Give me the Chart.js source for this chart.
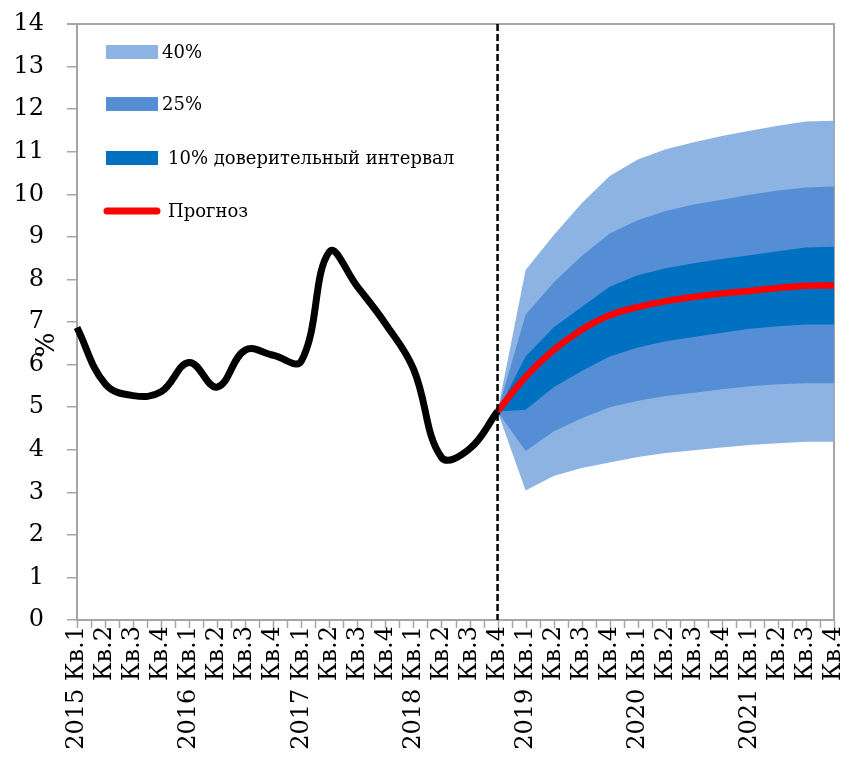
<!DOCTYPE html>
<html>
<head>
<meta charset="utf-8">
<script src="https://cdn.jsdelivr.net/npm/chart.js@4.4.0/dist/chart.umd.min.js"></script>
<style>
  html, body { margin: 0; padding: 0; background: #fff; }
  #wrap { width: 846px; height: 757px; }
</style>
</head>
<body>
<div id="wrap"><canvas id="myChart"></canvas></div>
<script>
// categories: 2015 Q1 .. 2021 Q4
const quarters = [
  "2015 Кв.1", "Кв.2", "Кв.3", "Кв.4",
  "2016 Кв.1", "Кв.2", "Кв.3", "Кв.4",
  "2017 Кв.1", "Кв.2", "Кв.3", "Кв.4",
  "2018 Кв.1", "Кв.2", "Кв.3", "Кв.4",
  "2019 Кв.1", "Кв.2", "Кв.3", "Кв.4",
  "2020 Кв.1", "Кв.2", "Кв.3", "Кв.4",
  "2021 Кв.1", "Кв.2", "Кв.3", "Кв.4"
];

// actual values, 2015 Q1 .. 2018 Q4
const history = [6.87, 5.55, 5.27, 5.36, 6.05, 5.47, 6.34, 6.22, 6.08, 8.65, 7.83, 6.96, 5.9, 3.82, 4.02, 4.9];

// forecast, 2018 Q4 .. 2021 Q4
const forecast = [4.9, 5.71, 6.34, 6.82, 7.16, 7.35, 7.49, 7.59, 7.67, 7.73, 7.8, 7.85, 7.86];
const upper10 = [4.9, 6.19, 6.87, 7.35, 7.83, 8.1, 8.26, 8.38, 8.48, 8.57, 8.66, 8.75, 8.77];
const lower10 = [4.9, 4.94, 5.47, 5.85, 6.19, 6.4, 6.55, 6.65, 6.75, 6.84, 6.9, 6.94, 6.94];
const upper25 = [4.9, 7.17, 7.93, 8.55, 9.08, 9.39, 9.61, 9.76, 9.87, 9.99, 10.09, 10.16, 10.18];
const lower25 = [4.9, 3.97, 4.43, 4.74, 5.0, 5.15, 5.26, 5.34, 5.42, 5.49, 5.54, 5.56, 5.56];
const upper40 = [4.9, 8.22, 9.04, 9.79, 10.43, 10.82, 11.06, 11.22, 11.37, 11.49, 11.61, 11.71, 11.73];
const lower40 = [4.9, 3.04, 3.38, 3.57, 3.7, 3.83, 3.92, 3.99, 4.05, 4.11, 4.15, 4.19, 4.19];

const yTicks = [0, 1, 2, 3, 4, 5, 6, 7, 8, 9, 10, 11, 12, 13, 14];

const forecastStart = history.length - 1;
const pad = (arr, before) => Array(before).fill(null).concat(arr).concat(Array(quarters.length - before - arr.length).fill(null));

const light = "#8db3e2";
const medium = "#558ed5";
const dark = "#0070c0";
const axisGray = "#a6a6a6";
const serif = "'DejaVu Serif', serif";

function band(label, data, color, fill) {
  return {
    label: label,
    data: pad(data, forecastStart),
    borderWidth: 0,
    pointRadius: 0,
    tension: 0,
    backgroundColor: color,
    fill: fill
  };
}

const decorations = {
  id: "decorations",
  beforeDatasetsDraw(chart) {
    const { ctx, chartArea: a, scales: { x } } = chart;
    ctx.save();
    // minor + major ticks on the x axis
    ctx.strokeStyle = axisGray;
    ctx.lineWidth = 1.5;
    for (let i = 0; i < quarters.length; i += 0.5) {
      const px = Math.round(x.getPixelForValue(i)) + 0.5;
      ctx.beginPath();
      ctx.moveTo(px, a.bottom);
      ctx.lineTo(px, a.bottom + 8);
      ctx.stroke();
    }
    // top and right frame
    ctx.lineWidth = 2;
    ctx.beginPath();
    ctx.moveTo(a.left - 10, a.top);
    ctx.lineTo(a.right, a.top);
    ctx.lineTo(a.right, a.bottom);
    ctx.stroke();
    ctx.restore();
  },
  afterDatasetsDraw(chart) {
    const { ctx, chartArea: a, scales: { x } } = chart;
    ctx.save();
    // dashed line at forecast start
    const px = x.getPixelForValue(forecastStart);
    ctx.strokeStyle = "#000";
    ctx.lineWidth = 2.5;
    ctx.setLineDash([7, 3]);
    ctx.beginPath();
    ctx.moveTo(px, a.top);
    ctx.lineTo(px, a.bottom);
    ctx.stroke();
    ctx.setLineDash([]);

    // legend
    const ds = chart.data.datasets;
    const rows = [
      { d: ds[6], y: 28, tx: 85 },
      { d: ds[4], y: 80, tx: 85 },
      { d: ds[2], y: 134, tx: 91 },
      { d: ds[1], y: 187, tx: 91, line: true }
    ];
    ctx.font = "18px " + serif;
    ctx.textBaseline = "middle";
    ctx.fillStyle = "#000";
    rows.forEach((r) => {
      const cy = a.top + r.y;
      if (r.line) {
        ctx.strokeStyle = r.d.borderColor;
        ctx.lineWidth = 7;
        ctx.lineCap = "round";
        ctx.beginPath();
        ctx.moveTo(a.left + 30, cy);
        ctx.lineTo(a.left + 80, cy);
        ctx.stroke();
      } else {
        ctx.fillStyle = r.d.backgroundColor;
        ctx.fillRect(a.left + 29, cy - 7, 52, 14);
      }
      ctx.fillStyle = "#000";
      ctx.fillText(r.d.label, a.left + r.tx, cy + 1);
    });

    // y axis title
    ctx.font = "26px " + serif;
    ctx.textAlign = "center";
    ctx.translate(47, (a.top + a.bottom) / 2 + 23);
    ctx.rotate(-Math.PI / 2);
    ctx.fillText("%", 0, 0);
    ctx.restore();
  }
};

const ctx = document.getElementById("myChart").getContext("2d");
const myChart = new Chart(ctx, {
  type: "line",
  data: {
    labels: quarters,
    datasets: [
      {
        label: "Факт",
        data: pad(history, 0),
        borderColor: "#000",
        borderWidth: 7,
        pointRadius: 0,
        tension: 0.4,
        fill: false
      },
      {
        label: "Прогноз",
        data: pad(forecast, forecastStart),
        borderColor: "#ff0000",
        borderWidth: 6.5,
        pointRadius: 0,
        tension: 0.4,
        fill: false
      },
      band("10% доверительный интервал", upper10, dark, "+1"),
      band("lower10", lower10, dark, false),
      band("25%", upper25, medium, "+1"),
      band("lower25", lower25, medium, false),
      band("40%", upper40, light, "+1"),
      band("lower40", lower40, light, false)
    ]
  },
  options: {
    responsive: true,
    maintainAspectRatio: false,
    animation: false,
    layout: { padding: { top: 24, right: 12, left: 0, bottom: 0 } },
    plugins: {
      legend: { display: false },
      tooltip: { enabled: false }
    },
    scales: {
      x: {
        offset: false,
        grid: { display: true, drawOnChartArea: false, drawTicks: false },
        border: { display: true, color: axisGray, width: 2 },
        ticks: {
          autoSkip: false,
          minRotation: 90,
          maxRotation: 90,
          padding: 6,
          color: "#000",
          font: { family: serif, size: 24 }
        },
        afterFit: (s) => { s.height = 137; s.paddingLeft = 0; s.paddingRight = 0; }
      },
      y: {
        min: 0,
        max: 14,
        afterBuildTicks: (s) => { s.ticks = yTicks.map((v) => ({ value: v })); },
        grid: { display: true, drawOnChartArea: false, drawTicks: true, tickLength: 10, color: axisGray, lineWidth: 1.5 },
        border: { display: true, color: axisGray, width: 2 },
        ticks: {
          padding: 23,
          color: "#000",
          font: { family: serif, size: 24 }
        },
        afterFit: (s) => { s.width = 77; s.paddingTop = 0; s.paddingBottom = 0; }
      }
    }
  },
  plugins: [decorations]
});
</script>
</body>
</html>
